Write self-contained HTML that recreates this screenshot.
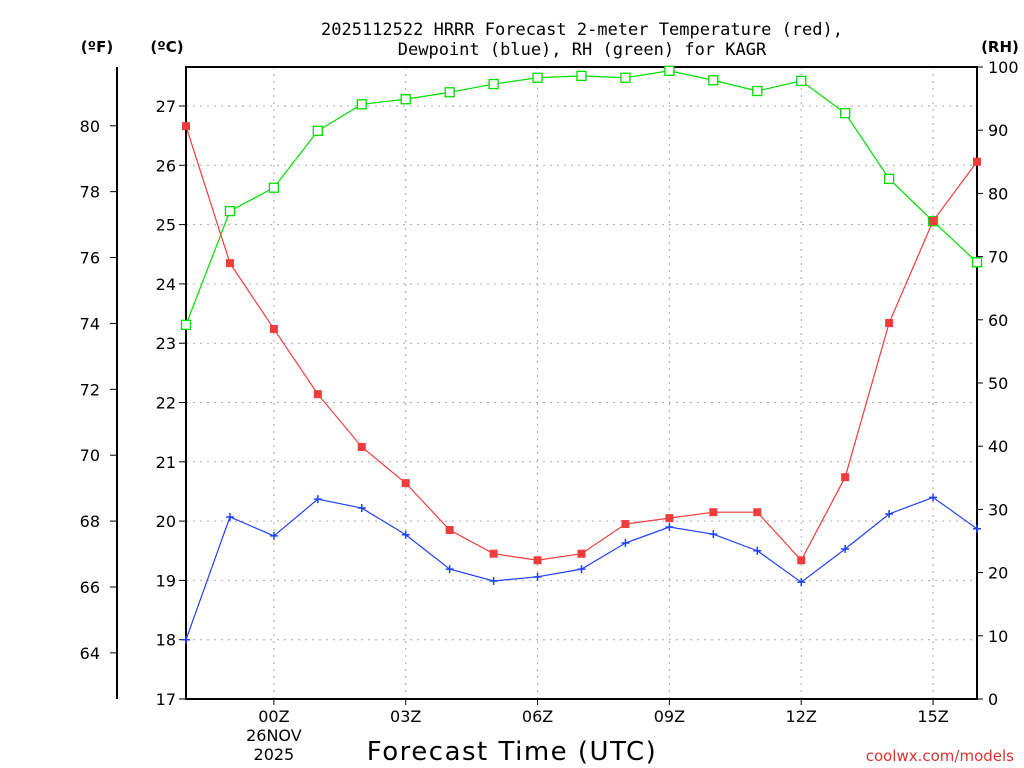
<!DOCTYPE html>
<html><head><meta charset="utf-8"><style>
body{margin:0;background:#fff;}
svg{display:block;font-family:"DejaVu Sans","Liberation Sans",sans-serif;}
</style></head><body>
<svg id="c" width="1024" height="768" viewBox="0 0 1024 768">
<text x="582" y="35" text-anchor="middle" font-size="17" font-family="DejaVu Sans Mono, Liberation Mono, monospace">2025112522 HRRR Forecast 2-meter Temperature (red),</text>
<text x="582" y="55" text-anchor="middle" font-size="17" font-family="DejaVu Sans Mono, Liberation Mono, monospace">Dewpoint (blue), RH (green) for KAGR</text>
<text x="97" y="52" text-anchor="middle" font-size="15" font-weight="bold">(ºF)</text>
<text x="167" y="52" text-anchor="middle" font-size="15" font-weight="bold">(ºC)</text>
<text x="1000" y="52" text-anchor="middle" font-size="15" font-weight="bold">(RH)</text>
<text x="512" y="760" text-anchor="middle" font-size="26" letter-spacing="1.5">Forecast Time (UTC)</text>
<text x="1014" y="761" text-anchor="end" font-size="15" fill="#e03030">coolwx.com/models</text>
<g id="grid"></g><g id="axes"></g><g id="series"></g>
</svg>
<script>
const hours=["22Z","23Z","00Z","01Z","02Z","03Z","04Z","05Z","06Z","07Z","08Z","09Z","10Z","11Z","12Z","13Z","14Z","15Z","16Z"];
const tempC=[26.66,24.35,23.24,22.14,21.25,20.64,19.85,19.45,19.34,19.45,19.95,20.05,20.15,20.15,19.34,20.74,23.34,25.06,26.06];
const dewC=[18.0,20.07,19.75,20.37,20.22,19.77,19.19,18.99,19.06,19.19,19.63,19.9,19.78,19.5,18.97,19.53,20.12,20.4,19.87];
const rh=[59.2,77.2,80.9,89.9,94.1,94.9,96.0,97.3,98.3,98.6,98.3,99.4,97.9,96.2,97.8,92.7,82.3,75.6,69.1];
const cTicks=[17,18,19,20,21,22,23,24,25,26,27];
const fTicks=[64,66,68,70,72,74,76,78,80];
const rhTicks=[0,10,20,30,40,50,60,70,80,90,100];
const xLabels=["00Z","03Z","06Z","09Z","12Z","15Z"];
const X0=186,X1=977,Y0=67,Y1=699;
const NS="http://www.w3.org/2000/svg";
const xs=i=>X0+i*(X1-X0)/(hours.length-1);
const yc=c=>Y1-(c-17)*59.3;
const yf=f=>yc((f-32)/1.8);
const yr=r=>Y1-r*(Y1-Y0)/100;
function mk(p,t,a){const e=document.createElementNS(NS,t);for(const k in a)e.setAttribute(k,a[k]);p.appendChild(e);return e;}
const G=document.getElementById('grid'),A=document.getElementById('axes'),S=document.getElementById('series');
cTicks.forEach(c=>{const y=yc(c);
 if(c>17){const g=mk(G,'line',{x1:X0,x2:X1,y1:y,y2:y,stroke:'#aaa','stroke-dasharray':'2,5'});
 
 }
 mk(A,'line',{x1:X0-7,x2:X0,y1:y,y2:y,stroke:'#000'});
 const t=mk(A,'text',{x:X0-10,y:y+6,'text-anchor':'end','font-size':16});t.textContent=c;
 
 });
fTicks.forEach(f=>{const y=yf(f);
 mk(A,'line',{x1:110,x2:117,y1:y,y2:y,stroke:'#000'});
 const t=mk(A,'text',{x:100,y:y+6,'text-anchor':'end','font-size':16});t.textContent=f;
 
 });
rhTicks.forEach(r=>{const y=yr(r);
 mk(A,'line',{x1:X1,x2:X1+6,y1:y,y2:y,stroke:'#000'});
 const t=mk(A,'text',{x:988,y:y+6,'font-size':16});t.textContent=r;
 
 });
hours.forEach((h,i)=>{const x=xs(i);
 if(xLabels.includes(h)){
  mk(A,'line',{x1:x,x2:x,y1:Y1,y2:Y1+6,stroke:'#000'});
  const g=mk(G,'line',{x1:x,x2:x,y1:Y0,y2:Y1,stroke:'#aaa','stroke-dasharray':'2,5'});
  
  
  const t=mk(A,'text',{x:x,y:722,'text-anchor':'middle','font-size':16});t.textContent=h;
  
  }});
[["26NOV",741],["2025",760]].forEach(([s,y])=>{const t=mk(A,'text',{x:xs(2),y:y,'text-anchor':'middle','font-size':16});t.textContent=s;
 
 });
const fr=mk(A,'rect',{x:X0,y:Y0,width:X1-X0,height:Y1-Y0,fill:'none',stroke:'#000','stroke-width':2});


const fl=mk(A,'line',{x1:117,x2:117,y1:Y0,y2:Y1,stroke:'#000','stroke-width':2});


function series(vals,yfun,color,name,marker){
 const pl=mk(S,'polyline',{points:vals.map((v,i)=>xs(i)+','+yfun(v)).join(' '),fill:'none',stroke:color,'stroke-width':1.2});
 
 
 vals.forEach((v,i)=>{const x=xs(i),y=yfun(v);let m;
  if(marker==='fill')m=mk(S,'rect',{x:x-4,y:y-4,width:8,height:8,fill:color});
  else if(marker==='open')m=mk(S,'rect',{x:x-4.5,y:y-4.5,width:9,height:9,fill:'#fff',stroke:color,'stroke-width':1.3});
  else m=mk(S,'path',{d:`M${x-4} ${y}H${x+4}M${x} ${y-4}V${y+4}`,stroke:color,'stroke-width':1.5});
  
  });}
series(rh,yr,'#00dd00','rh','open');
series(tempC,yc,'#f03c3c','temperature','fill');
series(dewC,yc,'#2040ff','dewpoint','plus');
</script>
</body></html>
